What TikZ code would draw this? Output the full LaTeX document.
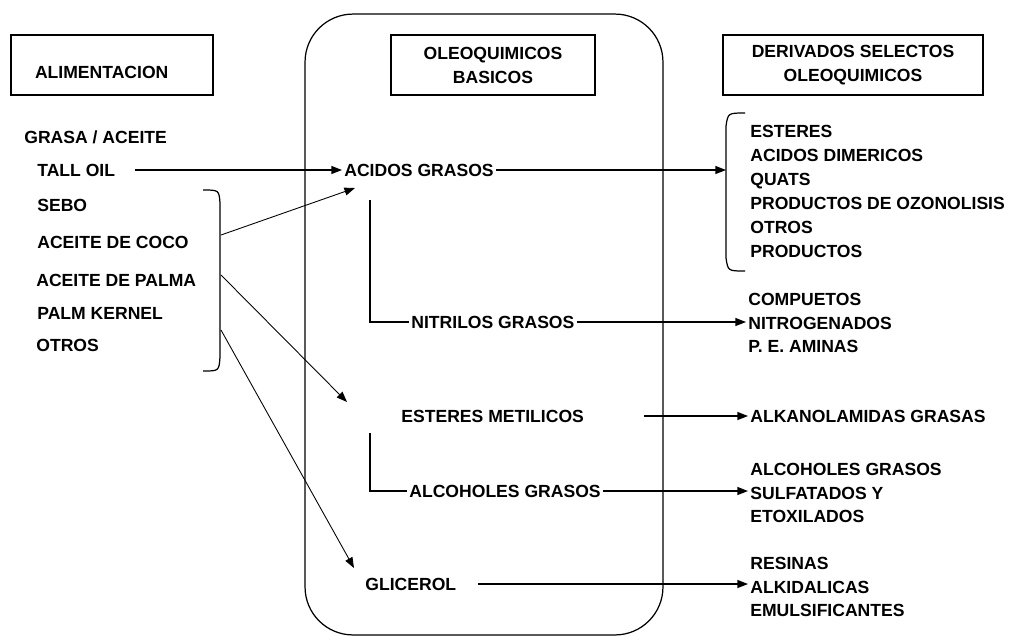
\documentclass[tikz,border=0pt]{standalone}
\usepackage{fontspec}
\setmainfont{Liberation Sans}
\usetikzlibrary{arrows.meta}
\newcommand{\drawbox}{\node[draw,rectangle,align=center,minimum height=1.2cm]}
\newcommand{\drawitem}{\node[anchor=west,inner sep=1pt]}
\newcommand{\drawlist}{\node[anchor=west,inner sep=1pt,align=left]}
\newcommand{\drawdummy}{\coordinate}

\begin{document}
\begin{tikzpicture}[x=0.02cm,y=-0.02cm,line width=0.7pt,>={Triangle[length=6pt,width=4.5pt]},
  every node/.style={font=\bfseries\fontsize{10}{13.6}\selectfont}]
\useasboundingbox (0,0) rectangle (1021,637);
%column titles
\drawbox[minimum width=4.04cm,inner xsep=0.48cm,text width=3.08cm,align=left,text height=0.53cm,text depth=0pt] (alim) at (112,65) {ALIMENTACION};
\drawbox[minimum width=4.08cm] (oleo) at (493,65) {OLEOQUIMICOS\\BASICOS};
\drawbox[minimum width=5.2cm] (deriv) at (853,65) {DERIVADOS SELECTOS\\OLEOQUIMICOS};
\node[draw,rounded corners=0.96cm,minimum width=7.16cm,minimum height=12.42cm,inner sep=0] (basic) at (484,324.5) {};

%feedstocks
\drawitem (grasa) at (22,137) {GRASA / ACEITE};
\drawitem (talloil) at (35,170) {TALL OIL};
\drawitem (sebo) at (35,205) {SEBO};
\drawitem (coco) at (35,242) {ACEITE DE COCO};
\drawitem (palma) at (34,280) {ACEITE DE PALMA};
\drawitem (kernel) at (35,313) {PALM KERNEL};
\drawitem (otros) at (34,345) {OTROS};
\draw (203,190) .. controls (219,190) .. (220,203) -- (220,357) .. controls (219,371) .. (203,371);
\drawdummy (feedA) at (221,235);
\drawdummy (feedB) at (221,275);
\drawdummy (feedC) at (221,330);

%basic oleochemicals
\drawitem (acidos) at (342,170) {ACIDOS GRASOS};
\drawitem (nitrilos) at (409,322) {NITRILOS GRASOS};
\drawitem (esteres) at (399,416) {ESTERES METILICOS};
\drawitem (alcoholes) at (407,491) {ALCOHOLES GRASOS};
\drawitem (glicerol) at (363,584) {GLICEROL};
\drawdummy (tipA) at (355,188);
\drawdummy (tipB) at (347,402);
\drawdummy (tipC) at (354,568);
\drawdummy (acidostap) at (370,200);
\drawdummy (esterestap) at (370,433);

%derivatives
\drawlist (selectos) at (748,191.5) {ESTERES\\ACIDOS DIMERICOS\\QUATS\\PRODUCTOS DE OZONOLISIS\\OTROS\\PRODUCTOS};
\draw (745,113) .. controls (728,113) .. (726,126) -- (726,258) .. controls (728,271) .. (745,271);
\drawdummy (selbrace) at (726,170);
\drawlist (nitrogenados) at (746,323) {COMPUETOS\\NITROGENADOS\\P. E. AMINAS};
\drawitem (alkanol) at (748,416) {ALKANOLAMIDAS GRASAS};
\drawlist (sulfatados) at (748,493) {ALCOHOLES GRASOS\\SULFATADOS Y\\ETOXILADOS};
\drawlist (resinas) at (748,587) {RESINAS\\ALKIDALICAS\\EMULSIFICANTES};

\draw[->,shorten <=10pt] (talloil.east) -- (acidos.west);
\draw[->,line width=0.5pt] (feedA) -- (tipA);
\draw[->,line width=0.5pt] (feedB) -- (tipB);
\draw[->,line width=0.5pt] (feedC) -- (tipC);
\draw (acidostap) |- (nitrilos.west);
\draw (esterestap) |- (alcoholes.west);
\draw[->] (acidos.east) -- (selbrace);
\draw[->] (nitrilos.east) -- (nitrilos.east -| nitrogenados.west);
\draw[->,shorten <=33pt] (esteres.east) -- (esteres.east -| alkanol.west);
\draw[->] (alcoholes.east) -- (alcoholes.east -| sulfatados.west);
\draw[->,shorten <=11pt] (glicerol.east) -- (glicerol.east -| resinas.west);

\end{tikzpicture}
\end{document}
